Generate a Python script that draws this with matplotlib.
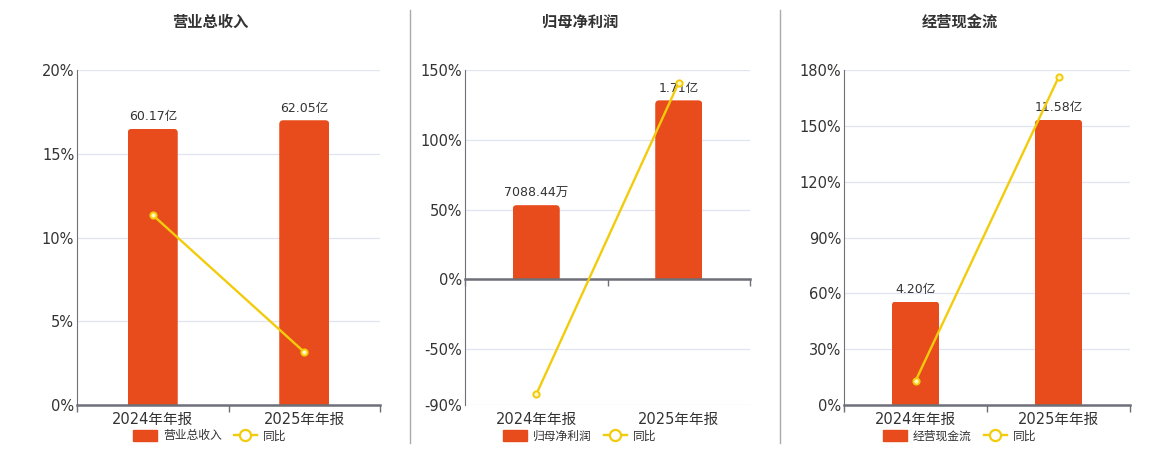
import matplotlib.pyplot as plt
from matplotlib.lines import Line2D
from matplotlib.patches import Patch, FancyBboxPatch
from matplotlib.ticker import FuncFormatter

plt.rcParams['font.family'] = ['DejaVu Sans', 'Noto Sans CJK SC']

# data
periods = ['2024年年报', '2025年年报']
titles = ['营业总收入', '归母净利润', '经营现金流']
amounts = [[60.17, 62.05], [0.708844, 1.71], [4.20, 11.58]]   # 亿
amount_labels = [['60.17亿', '62.05亿'], ['7088.44万', '1.71亿'], ['4.20亿', '11.58亿']]
yoy = [[11.34, 3.16], [-82.4, 141.0], [12.9, 176.0]]   # %
pct_ticks = [[0, 5, 10, 15, 20], [-90, -50, 0, 50, 100, 150], [0, 30, 60, 90, 120, 150, 180]]
amount_lims = [(0, 73.0), (-1.2, 2.0), (0, 13.6)]

bar_color = '#e84c1c'
line_color = '#f2cc0c'
grid_color = '#e0e6f1'
axis_color = '#6e7079'
text_color = '#333333'

fig = plt.figure(figsize=(11.6, 4.5), dpi=100)
lefts = [77, 465, 844]
rights = [380, 750, 1130]
centers = [210, 580, 960]
cjk = ['Noto Sans CJK SC']
radius_px = 4

for i in range(3):
    l, r = lefts[i], rights[i]
    rect = [l / 1160, 45 / 450, (r - l) / 1160, 335 / 450]
    x = range(len(periods))
    t = pct_ticks[i]

    # bottom layer: grid, ticks, spines
    ax = fig.add_axes(rect)
    ax.set_ylim(t[0], t[-1])
    ax.set_yticks(t)
    ax.yaxis.set_major_formatter(FuncFormatter(lambda v, p: f'{v:.0f}%'))
    ax.set_xlim(-0.5, 1.5)
    ax.set_xticks(list(x))
    ax.set_xticklabels(periods)
    ax.tick_params(axis='x', length=0, labelsize=10.5, colors=text_color, pad=5)
    ax.tick_params(axis='y', length=0, labelsize=10.5, colors=text_color, pad=2)
    ax.grid(axis='y', color=grid_color, lw=0.9)
    for s in ['top', 'right', 'bottom']:
        ax.spines[s].set_visible(False)
    ax.spines['left'].set_color(axis_color)

    # middle layer: bars on hidden amount axis, with rounded tops
    ax_bar = fig.add_axes(rect)
    ax_bar.set_xlim(-0.5, 1.5)
    ax_bar.set_ylim(*amount_lims[i])
    bars = ax_bar.bar(x, amounts[i], width=0.33, color=bar_color)
    ax_bar.bar_label(bars, labels=amount_labels[i], padding=4, fontsize=9, color=text_color)
    rx = radius_px * 2 / (r - l)
    ry = radius_px * (amount_lims[i][1] - amount_lims[i][0]) / 335
    for b in bars:
        fb = FancyBboxPatch((b.get_x(), b.get_y() - ry), b.get_width(), b.get_height() + ry,
                            boxstyle=f'round,pad=0,rounding_size={rx}',
                            mutation_aspect=ry / rx, fc=bar_color, ec='none')
        ax_bar.add_patch(fb)
        fb.set_clip_path(b)
        b.set_visible(False)
    ax_bar.axis('off')

    # top layer: zero axis line and yoy line on the percent scale
    ax_line = fig.add_axes(rect)
    ax_line.set_xlim(-0.5, 1.5)
    ax_line.set_ylim(t[0], t[-1])
    ax_line.plot(x, yoy[i], color=line_color, lw=1.7, marker='o', ms=4.5,
                 mfc='#fff6c0', mec=line_color, mew=1.4, zorder=3)
    for s in ['top', 'right', 'left']:
        ax_line.spines[s].set_visible(False)
    ax_line.patch.set_visible(False)
    ax_line.spines['bottom'].set_position(('data', 0))
    ax_line.spines['bottom'].set_color(axis_color)
    ax_line.spines['bottom'].set_linewidth(1.8)
    ax_line.set_xticks([-0.5, 0.5, 1.5])
    ax_line.set_xticklabels(['', '', ''])
    ax_line.tick_params(axis='x', length=5, color=axis_color, width=1)
    ax_line.set_yticks([])

    fig.text(centers[i] / 1160, 1 - 22 / 450, titles[i], ha='center', va='center',
             fontsize=11, fontweight='bold', color=text_color, family=cjk)

    handles = [Patch(color=bar_color, label=titles[i]),
               Line2D([0], [0], color=line_color, lw=1.7, marker='o', ms=8,
                      mfc='white', mec=line_color, mew=1.6, label='同比')]
    fig.legend(handles=handles, loc='center', bbox_to_anchor=(centers[i] / 1160, 1 - 436 / 450),
               ncol=2, frameon=False, handlelength=2.0, handleheight=1.0,
               columnspacing=1.0, handletextpad=0.5, labelcolor=text_color,
               borderpad=0, prop={'family': cjk, 'size': 8.5})

for xs in [410, 780]:
    fig.add_artist(Line2D([xs / 1160, xs / 1160], [1 - 10 / 450, 1 - 443 / 450],
                          color='#aaaaaa', lw=1))

fig.savefig('out.png', dpi=100)
